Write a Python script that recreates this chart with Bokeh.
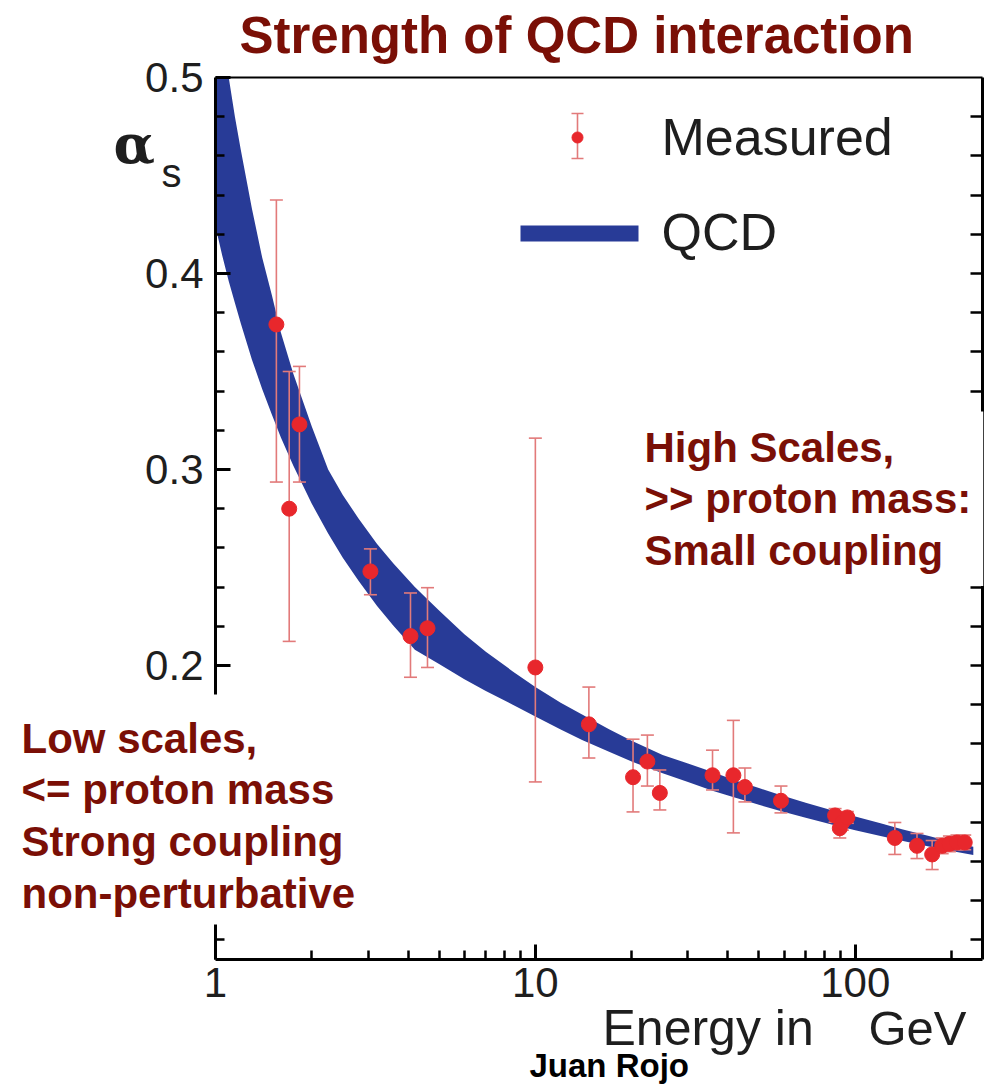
import math
from bokeh.plotting import figure
from bokeh.models import Label, LinearAxis, FixedTicker, PrintfTickFormatter, ColumnDataSource, Range1d
from bokeh.embed import file_html
from bokeh.resources import INLINE

# ---------------- data ----------------
band_E = [1.0, 1.05, 1.1, 1.15, 1.2, 1.3, 1.4, 1.5, 1.6, 1.75, 2.0, 2.25, 2.5, 2.8, 3.2, 3.6, 4.2,
          5.0, 6.0, 7.0, 8.5, 10.0, 12.0, 14.0, 17.0, 20.0, 25.0, 30.0, 36.0, 42.0, 50.0, 58.0,
          70.0, 85.0, 100.0, 120.0, 140.0, 170.0, 200.0, 234.0]
band_lo = [0.424, 0.409, 0.396, 0.385, 0.3745, 0.356, 0.341, 0.328, 0.3165, 0.302, 0.2825, 0.2674,
           0.255, 0.2433, 0.2304, 0.2203, 0.208, 0.2008, 0.193, 0.187, 0.180, 0.174, 0.1674, 0.162,
           0.156, 0.151, 0.145, 0.1405, 0.136, 0.1326, 0.1289, 0.1259, 0.1223, 0.1188, 0.116, 0.113,
           0.1106, 0.1077, 0.1054, 0.1033]
band_hi = [0.500, 0.500, 0.500, 0.480, 0.463, 0.433, 0.408, 0.389, 0.370, 0.349, 0.322, 0.300,
           0.287, 0.275, 0.262, 0.252, 0.240, 0.228, 0.216, 0.207, 0.197, 0.189, 0.181, 0.175,
           0.1675, 0.1616, 0.1543, 0.150, 0.1455, 0.1415, 0.1375, 0.134, 0.130, 0.126, 0.123, 0.1195,
           0.1165, 0.113, 0.110, 0.1075]

meas_E = [1.55, 1.70, 1.83, 3.05, 4.07, 4.6, 10.0, 14.7, 20.2, 22.4, 24.5, 35.8, 41.6, 45.2,
          58.6, 86.5, 89.5, 91.2, 94.5, 133.0, 156.0, 174.0, 187.0, 197.0, 208.0, 220.0]
meas_val = [0.374, 0.280, 0.323, 0.248, 0.215, 0.219, 0.199, 0.170, 0.143, 0.151, 0.135, 0.144, 0.144, 0.138,
            0.131, 0.1235, 0.117, 0.120, 0.1225, 0.112, 0.108, 0.1036, 0.108, 0.109, 0.1097, 0.1097]
meas_hi = [0.4375, 0.350, 0.3526, 0.2595, 0.237, 0.2397, 0.316, 0.189, 0.1624, 0.1645, 0.1467, 0.1568, 0.172, 0.1477,
           0.1385, 0.127, 0.122, 0.124, 0.1255, 0.1199, 0.1143, 0.1107, 0.112, 0.113, 0.1135, 0.1135]
meas_lo = [0.2936, 0.2123, 0.2936, 0.2361, 0.194, 0.199, 0.1406, 0.1528, 0.1253, 0.1385, 0.1263, 0.1365, 0.1146, 0.1304,
           0.1248, 0.120, 0.112, 0.116, 0.1195, 0.1036, 0.1015, 0.0959, 0.104, 0.105, 0.106, 0.106]

x_major = [1, 10, 100]
x_minor = [2, 3, 4, 5, 6, 7, 8, 9, 20, 30, 40, 50, 60, 70, 80, 90, 200]
y_major = [0.2, 0.3, 0.4, 0.5]
y_minor = [0.06, 0.08, 0.1, 0.12, 0.14, 0.16, 0.18, 0.22, 0.24, 0.26, 0.28,
           0.32, 0.34, 0.36, 0.38, 0.42, 0.44, 0.46, 0.48]
y_right_ticks = [0.06, 0.08, 0.1, 0.12, 0.14, 0.16, 0.18, 0.2, 0.22, 0.24, 0.26, 0.28, 0.3,
                 0.32, 0.34, 0.36, 0.38, 0.4, 0.42, 0.44, 0.46, 0.48]

title_text = "Strength of QCD interaction"
low_text = "Low scales,\n<= proton mass\nStrong coupling\nnon-perturbative"
high_text = "High Scales,\n>> proton mass:\nSmall coupling"

# ---------------- style ----------------
BLUE = "#283B97"
RED = "#E8272C"
ERR = "#E27A7A"
DARKRED = "#7A0F06"
INK = "#1E1E1E"
SANS = "Liberation Sans"

W, H = 993, 1084
L, R, T, B = 215, 982, 77, 959          # plot box in page pixels
X0, X1, Y0, Y1 = 1.0, 250.0, 0.05, 0.5  # plot box in data units

def ex(px):
    return 10 ** (math.log10(X0) + (px - L) / (R - L) * (math.log10(X1) - math.log10(X0)))

def vy(py):
    return Y1 - (py - T) / (B - T) * (Y1 - Y0)

p = figure(width=W, height=H, x_axis_type="log",
           x_range=Range1d(ex(0), ex(W)), y_range=Range1d(vy(H), vy(0)),
           output_backend="svg", toolbar_location=None,
           min_border_left=0, min_border_right=0, min_border_top=0, min_border_bottom=0)
p.outline_line_color = None
p.grid.visible = False
p.background_fill_color = "white"

# axes drawn at the edges of the data box
xa = p.xaxis[0]
xa.ticker = FixedTicker(ticks=x_major, minor_ticks=x_minor)
xa.formatter = PrintfTickFormatter(format="%d")
xa.fixed_location = Y0
xa.bounds = (X0, X1)
ya = p.yaxis[0]
ya.ticker = FixedTicker(ticks=y_major, minor_ticks=y_minor)
ya.formatter = PrintfTickFormatter(format="%.1f")
ya.fixed_location = X0
ya.bounds = (Y0, Y1)

ra = LinearAxis(ticker=FixedTicker(ticks=[], minor_ticks=y_right_ticks), fixed_location=X1, bounds=(Y0, Y1))
ta = LinearAxis(ticker=FixedTicker(ticks=[], minor_ticks=[]), fixed_location=Y1, bounds=(X0, X1))
p.add_layout(ra, "right")
p.add_layout(ta, "above")

for ax in [xa, ya, ra, ta]:
    ax.axis_line_width = 3
    ax.axis_line_color = "black"
    ax.major_tick_in = 15
    ax.major_tick_out = 0
    ax.minor_tick_in = 9
    ax.minor_tick_out = 0
    ax.major_tick_line_width = 3
    ax.minor_tick_line_width = 2.5
    ax.major_label_text_font = SANS
    ax.major_label_text_font_size = "42px"
    ax.major_label_text_color = INK
ra.minor_tick_in = 12
ta.axis_line_width = 2
ya.major_label_standoff = 12
xa.major_label_standoff = 8

# QCD band
band = ColumnDataSource(dict(x=band_E, y1=band_lo, y2=band_hi))
p.varea(x="x", y1="y1", y2="y2", source=band, fill_color=BLUE)

# measurements
meas = ColumnDataSource(dict(x=meas_E, y=meas_val, lo=meas_lo, hi=meas_hi))
p.segment(x0="x", y0="lo", x1="x", y1="hi", source=meas, line_color=ERR, line_width=1.6)
p.scatter(x="x", y="hi", source=meas, marker="dash", size=13, line_color=ERR, line_width=1.6)
p.scatter(x="x", y="lo", source=meas, marker="dash", size=13, line_color=ERR, line_width=1.6)
p.scatter(x="x", y="y", source=meas, size=15, fill_color=RED, line_color=RED)

# legend (manual)
lx = ex(577)
p.segment(x0=[lx], y0=[vy(113)], x1=[lx], y1=[vy(158)], line_color=ERR, line_width=1.6)
p.scatter(x=[lx, lx], y=[vy(113), vy(158)], marker="dash", size=12, line_color=ERR, line_width=1.6)
p.scatter(x=[lx], y=[vy(137)], size=11, fill_color=RED, line_color=RED)
p.segment(x0=[ex(520)], y0=[vy(233)], x1=[ex(638)], y1=[vy(233)], line_color=BLUE, line_width=16, line_cap="butt")

def text_at(px, py_base, txt, size, font=SANS, style="normal", color=INK):
    # py_base: wanted baseline in page pixels; the renderer puts it about 0.35 em lower
    p.add_layout(Label(x=ex(px), y=vy(py_base - 0.35 * size), text=txt, text_font=font,
                       text_font_style=style, text_font_size=f"{size}px", text_color=color,
                       text_baseline="alphabetic"))

text_at(661, 155, "Measured", 52)
text_at(661, 250, "QCD", 52)

# title and annotations
text_at(239, 53, title_text, 51, style="bold", color=DARKRED)
p.add_layout(Label(x=ex(13), y=vy(694), text=low_text, text_font=SANS, text_font_style="bold",
                   text_font_size="42px", text_color=DARKRED, text_baseline="top", text_line_height=1.1,
                   background_fill_color="white", padding=(8, 16, 20, 8)))
p.add_layout(Label(x=ex(632), y=vy(411), text=high_text, text_font=SANS, text_font_style="bold",
                   text_font_size="42px", text_color=DARKRED, text_baseline="top", text_line_height=1.1,
                   background_fill_color="white", padding=12))

# axis titles
text_at(602, 1045, "Energy in", 50)
text_at(868, 1045, "GeV", 49)
text_at(113, 162, "\u03b1", 54, font="DejaVu Serif", style="bold")
text_at(161, 186, "s", 40)
text_at(529, 1077, "Juan Rojo", 33, style="bold", color="black")

open("out.html", "w").write(file_html(p, INLINE))
